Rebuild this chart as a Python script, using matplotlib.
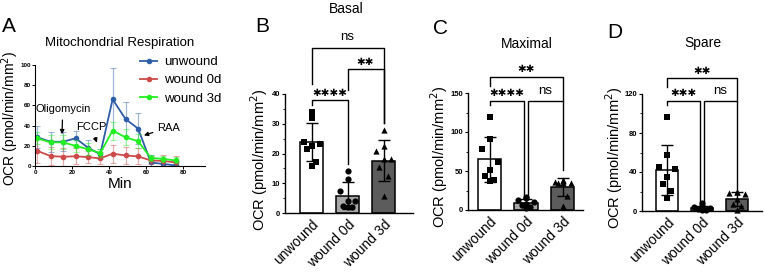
import numpy as np
import matplotlib
matplotlib.use("Agg")
import matplotlib.pyplot as plt
from matplotlib.ticker import MultipleLocator

plt.rcParams['font.family'] = ['Liberation Sans', 'DejaVu Sans']

# ---------------- data ----------------
# Panel A: time course
time_min = [1.2, 8.5, 15.0, 22.0, 28.8, 35.3, 42.0, 49.0, 55.8, 62.7, 69.4, 76.2]
unwound_ocr = [28.4, 24.0, 24.0, 27.4, 18.0, 11.6, 66.0, 46.5, 37.0, 3.5, 2.0, 0.5]
unwound_err = [11, 10, 9.5, 7.5, 8, 5, 31, 17, 15.5, 7, 5, 4]
wound0_ocr = [15.0, 9.8, 9.2, 9.6, 8.8, 7.5, 12.2, 10.4, 9.5, 5.5, 5.0, 3.5]
wound0_err = [12, 9, 9, 8, 6, 6, 9, 8, 8, 4, 6, 6]
wound3_ocr = [27.4, 23.4, 23.4, 20.0, 16.5, 12.8, 35.0, 28.4, 24.5, 8.0, 7.0, 5.5]
wound3_err = [6, 7, 7, 6, 6, 4, 9, 8, 7, 3, 3, 3]
series_names = ["unwound", "wound 0d", "wound 3d"]

groups = ["unwound", "wound 0d", "wound 3d"]

basal_unwound = [34.1, 31.8, 24.0, 23.1, 22.6, 21.5, 17.0, 15.9]
basal_wound0 = [14.0, 11.4, 7.3, 3.9, 3.9, 2.5, 1.9, 1.9]
basal_wound3 = [27.9, 22.6, 20.7, 18.3, 18.3, 15.4, 12.3, 5.6]

max_unwound = [119, 91, 78, 62, 51, 44, 38, 37]
max_wound0 = [17, 15, 13, 10, 8, 6, 4, 3]
max_wound3 = [38, 37, 36, 35, 35, 34, 18, 5]

spare_unwound = [96, 57, 45, 43, 35, 28, 21, 13]
spare_wound0 = [8, 5, 4, 3, 2, 2, 1, 1]
spare_wound3 = [20, 19, 18, 17, 12, 7, 5, 1]

# significance: (group i, group j, label)
basal_sig = [(0, 1, "✱✱✱✱"), (1, 2, "✱✱"), (0, 2, "ns")]
max_sig = [(0, 1, "✱✱✱✱"), (1, 2, "ns"), (0, 2, "✱✱")]
spare_sig = [(0, 1, "✱✱✱"), (1, 2, "ns"), (0, 2, "✱✱")]

# ---------------- figure ----------------
W, H = 764, 277
fig = plt.figure(figsize=(W / 100, H / 100), dpi=100)


def ax_px(l, t, r, b):
    return fig.add_axes([l / W, 1 - b / H, (r - l) / W, (b - t) / H])


# ---- Panel A ----
axA = ax_px(35, 65, 205, 166)
colors = ["#2f5ea8", "#cc4a4a", "#22ee22"]
for y, e, c, n in zip([unwound_ocr, wound0_ocr, wound3_ocr],
                      [unwound_err, wound0_err, wound3_err], colors, series_names):
    axA.errorbar(time_min, y, yerr=e, fmt='none', ecolor=c, alpha=0.45,
                 elinewidth=0.9, capsize=2.2, capthick=0.8)
    axA.plot(time_min, y, '-', color=c, lw=1.3, marker='o', ms=3, label=n)
axA.set_xlim(0, 92)
axA.set_ylim(0, 100)
axA.set_xticks([0, 20, 40, 60, 80])
axA.set_yticks([0, 20, 40, 60, 80, 100])
for s in ['top', 'right']:
    axA.spines[s].set_visible(False)
axA.tick_params(labelsize=4.5, length=2, width=0.7, pad=1)
for lab in axA.get_xticklabels() + axA.get_yticklabels():
    lab.set_fontweight('bold')
axA.set_xlabel("Min", fontsize=11, labelpad=1)
axA.set_ylabel("OCR (pmol/min/mm$^2$)", fontsize=10)
axA.yaxis.set_label_coords((21 - 35) / 170, 0.47)
axA.set_title("Mitochondrial Respiration", fontsize=9.5, pad=14)
leg = axA.legend(loc='upper left', bbox_to_anchor=(140 / W, 1 - 56 / H),
                 bbox_transform=fig.transFigure, frameon=False, fontsize=9.5,
                 handlelength=1.3, handletextpad=0.5, labelspacing=0.45,
                 borderpad=0, borderaxespad=0)
axA.annotate("Oligomycin", xy=(14.6, 28.7), xytext=(15, 56), ha='center', va='center',
             fontsize=8, arrowprops=dict(arrowstyle='-|>', lw=0.9, color='k', mutation_scale=6))
axA.annotate("FCCP", xy=(34, 20.5), xytext=(30.5, 38.5), ha='center', va='center',
             fontsize=8, arrowprops=dict(arrowstyle='-|>', lw=0.9, color='k', mutation_scale=6))
axA.annotate("RAA", xy=(57.5, 29.5), xytext=(66, 38), ha='left', va='center',
             fontsize=8, arrowprops=dict(arrowstyle='-|>', lw=0.9, color='k', mutation_scale=6,
                                         shrinkA=1))

# ---- bar panels ----
bar_colors = ["white", "#a8a8a8", "#5c5c5c"]
markers = ['s', 'o', '^']
JITTER = [0.0, 0.0, -0.22, 0.22, 0.0, -0.12, 0.12, 0.0]


def bar_panel(ax, data, sig, ylim, major, minor, brackets, label_x):
    x = np.arange(len(data))
    means = [np.mean(d) for d in data]
    sds = [np.std(d, ddof=1) for d in data]
    ax.bar(x, means, width=0.64, color=bar_colors, edgecolor='black', linewidth=1.1, zorder=1)
    for i, d in enumerate(data):
        ds = sorted(d, reverse=True)
        ax.scatter(x[i] + np.array(JITTER[:len(ds)]), ds, marker=markers[i], s=20,
                   color='black', zorder=3, clip_on=False, linewidths=0)
    ax.errorbar(x, means, yerr=sds, fmt='none', ecolor='black', elinewidth=1.0,
                capsize=4.5, capthick=1.0, zorder=4)
    ax.set_ylim(*ylim)
    ax.yaxis.set_major_locator(MultipleLocator(major))
    ax.yaxis.set_minor_locator(MultipleLocator(minor))
    ax.set_xticks(x)
    ax.set_xticklabels(groups, rotation=45, ha='right', rotation_mode='anchor', fontsize=10)
    for s in ['top', 'right']:
        ax.spines[s].set_visible(False)
    ax.spines['left'].set_linewidth(1.0)
    ax.spines['bottom'].set_linewidth(1.0)
    ax.tick_params(axis='y', labelsize=5.5, length=2.5, width=0.8, pad=1)
    ax.tick_params(axis='y', which='minor', length=1.5, width=0.6)
    ax.tick_params(axis='x', length=0, pad=3)
    for lab in ax.get_yticklabels():
        lab.set_fontweight('bold')
    ax.set_ylabel("OCR (pmol/min/mm$^2$)", fontsize=10.5)
    ax.yaxis.set_label_coords(label_x, 0.45)
    for (i, j, lab), (xi, xj, top, lb, rb) in zip(sig, brackets):
        ax.plot([xi, xi, xj, xj], [lb, top, top, rb], color='black', lw=1.0,
                clip_on=False, zorder=5)
        if lab == 'ns':
            ax.text((xi + xj) / 2, top + (ylim[1] - ylim[0]) * 0.035, lab, ha='center',
                    va='bottom', fontsize=9.5)
        else:
            ax.text((xi + xj) / 2, top + (ylim[1] - ylim[0]) * 0.02, lab, ha='center',
                    va='bottom', fontsize=7.5, family='DejaVu Sans')
    return ax


axB = ax_px(285, 94, 413, 213)
axB.set_xlim(-0.74, 2.82)
bar_panel(axB, [basal_unwound, basal_wound0, basal_wound3], basal_sig, (0, 40), 10, 5,
          [(0, 1, 38.0, 36.3, 16.5), (1, 2, 48.3, 41.5, 30.3), (0, 2, 55.6, 43.5, 30.3)],
          (270 - 285) / 128)

axC = ax_px(468, 93, 583, 210)
axC.set_xlim(-0.59, 2.56)
bar_panel(axC, [max_unwound, max_wound0, max_wound3], max_sig, (0, 150), 50, 25,
          [(0, 0.94, 140, 134.5, 17), (1.06, 2, 140, 17, 51), (0, 2, 171, 159, 140)],
          (450 - 468) / 115)

axD = ax_px(642, 94, 762, 211)
axD.set_xlim(-0.71, 2.71)
bar_panel(axD, [spare_unwound, spare_wound0, spare_wound3], spare_sig, (0, 120), 40, 20,
          [(0, 0.94, 113, 108.7, 3), (1.06, 2, 113, 3, 22), (0, 2, 136.5, 127, 113)],
          (625 - 642) / 120)

# titles & panel letters (figure pixel positions)
fig.text(346 / W, 1 - 9 / H, "Basal", ha='center', va='center', fontsize=10)
fig.text(527 / W, 1 - 44 / H, "Maximal", ha='center', va='center', fontsize=10)
fig.text(703 / W, 1 - 43 / H, "Spare", ha='center', va='center', fontsize=10)
for letter, (px, py) in zip("ABCD", [(9, 26), (262, 26), (440, 28), (615, 32)]):
    fig.text(px / W, 1 - py / H, letter, ha='center', va='center', fontsize=15)

fig.savefig("out.png", dpi=100)
